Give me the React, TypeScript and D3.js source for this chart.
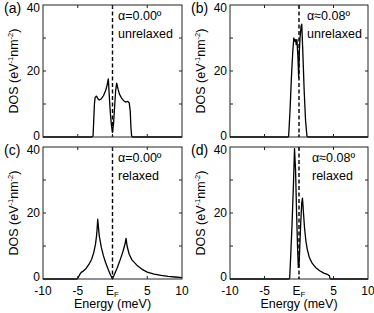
import React from 'react';
import * as d3 from 'd3';

// DOS curves: [energy (meV), DOS (eV^-1 nm^-2)]
const unrelaxed000: [number, number][] = [
  [-10, 0], [-3.0, 0], [-2.8, 0.3], [-2.7, 5], [-2.6, 10], [-2.5, 12], [-2.3, 12.4], [-2.1, 11.6],
  [-1.9, 11.2], [-1.6, 11.6], [-1.3, 12.5], [-1.0, 14], [-0.8, 15.5], [-0.6, 17.6], [-0.45, 12],
  [-0.3, 7], [-0.15, 3.5], [0, 1.5], [0.15, 4], [0.3, 9], [0.45, 14], [0.6, 16.3], [0.8, 14.5],
  [1.0, 13], [1.3, 11.8], [1.6, 11], [1.9, 10.6], [2.2, 10.8], [2.4, 10.4], [2.55, 8], [2.65, 3],
  [2.75, 0.3], [2.9, 0], [10, 0],
];

const unrelaxed008: [number, number][] = [
  [-10, 0], [-1.6, 0], [-1.5, 0.2], [-1.3, 8], [-1.1, 18], [-0.9, 26], [-0.75, 30], [-0.6, 29],
  [-0.5, 29.5], [-0.4, 28], [-0.3, 29.5], [-0.15, 24], [-0.05, 18], [0.05, 26], [0.15, 30],
  [0.3, 33.5], [0.4, 34.2], [0.55, 26], [0.75, 14], [0.95, 5], [1.15, 0.3], [1.3, 0], [10, 0],
];

const relaxed000: [number, number][] = [
  [-10, 0], [-5.1, 0], [-4.9, 0.6], [-4.7, 1.4], [-4.5, 2.0], [-4.2, 2.4], [-3.8, 3.2], [-3.4, 4.4],
  [-3.0, 6], [-2.7, 8], [-2.45, 10.5], [-2.3, 13], [-2.2, 15.5], [-2.13, 18.1], [-1.9, 13],
  [-1.6, 9.5], [-1.3, 7], [-1.0, 5], [-0.6, 2.8], [-0.3, 1.3], [0, 0], [0.3, 1.5], [0.7, 3.5],
  [1.1, 5.8], [1.5, 8.3], [1.8, 10.6], [1.95, 12.3], [2.1, 10], [2.4, 7.5], [2.8, 5.8], [3.5, 4.2],
  [4.2, 3], [5, 2.1], [6, 1.5], [7, 1.1], [8, 0.8], [9, 0.6], [10, 0.4],
];

const relaxed008: [number, number][] = [
  [-10, 0], [-1.45, 0], [-1.35, 0.3], [-1.2, 7], [-1.0, 17], [-0.8, 29], [-0.65, 39.5], [-0.5, 33],
  [-0.35, 20], [-0.2, 9], [-0.1, 3.5], [0, 4], [0.1, 9], [0.25, 17], [0.4, 23], [0.5, 24.5],
  [0.65, 20], [0.8, 15.5], [1.0, 11.5], [1.2, 9], [1.5, 6.5], [1.9, 4.8], [2.4, 3.5], [3.0, 2.5],
  [3.6, 1.8], [4.2, 1.3], [4.4, 1.0], [4.5, 0.2], [4.6, 0], [10, 0],
];

const xTicks = [-10, -5, 0, 5, 10];
const xTickLabels = ['-10', '-5', 'E_F', '5', '10'];
const yTicks = [0, 10, 20, 30, 40];
const yTickLabels = [0, 20, 40];

const panels = [
  { tag: '(a)', angle: 'α=0.00º', state: 'unrelaxed', data: unrelaxed000, col: 0, row: 0 },
  { tag: '(b)', angle: 'α≈0.08º', state: 'unrelaxed', data: unrelaxed008, col: 1, row: 0 },
  { tag: '(c)', angle: 'α=0.00º', state: 'relaxed', data: relaxed000, col: 0, row: 1 },
  { tag: '(d)', angle: 'α≈0.08º', state: 'relaxed', data: relaxed008, col: 1, row: 1 },
];

const colX = [[43, 182], [230, 368]];
const rowY = [[5, 137], [147, 279]];
const annX = [[118, 307], [118, 312]];

const font = 'Arial, "Liberation Sans", sans-serif';

const Panel = ({ p }: { p: typeof panels[number] }) => {
  const [x0, x1] = colX[p.col];
  const [y0, y1] = rowY[p.row];
  const x = d3.scaleLinear().domain([-10, 10]).range([x0, x1]);
  const y = d3.scaleLinear().domain([0, 40]).range([y1, y0]);
  const line = d3.line<[number, number]>().x(d => x(d[0])).y(d => y(d[1]));
  const tl = 3;
  const ax = annX[p.row][p.col];
  const titleX = x0 - 25;
  const titleY = (y0 + y1) / 2;
  const bottom = p.row === 1;

  return (
    <g>
      <path d={line(p.data) ?? ''} fill="none" stroke="#000" strokeWidth={1.3} strokeLinejoin="round" />
      <line x1={x(0)} x2={x(0)} y1={y0} y2={y1} stroke="#000" strokeWidth={1.4} strokeDasharray="4,2.5" />
      <rect x={x0} y={y0} width={x1 - x0} height={y1 - y0} fill="none" stroke="#222" strokeWidth={1} />
      {xTicks.slice(1, -1).map(t => (
        <g key={'xt' + t}>
          <line x1={x(t)} x2={x(t)} y1={y1} y2={y1 - tl} stroke="#222" />
          <line x1={x(t)} x2={x(t)} y1={y0} y2={y0 + tl} stroke="#222" />
        </g>
      ))}
      {yTicks.slice(1, -1).map(t => (
        <g key={'yt' + t}>
          <line x1={x0} x2={x0 + tl} y1={y(t)} y2={y(t)} stroke="#222" />
          <line x1={x1} x2={x1 - tl} y1={y(t)} y2={y(t)} stroke="#222" />
        </g>
      ))}
      {yTickLabels.map(t => (
        <text
          key={'yl' + t}
          x={x0 - 3}
          y={t === 0 ? y(t) + (bottom ? 1.8 : 3.3) : Math.max(y(t), y0 + 3) + 4.3}
          fontSize={12}
          textAnchor="end"
          fontFamily={font}
        >
          {t}
        </text>
      ))}
      {bottom &&
        xTicks.map((t, i) => (
          <text key={'xl' + t} x={x(t)} y={y1 + 15.5} fontSize={12} textAnchor="middle" fontFamily={font}>
            {xTickLabels[i] === 'E_F' ? (
              <>
                E<tspan fontSize={8} dy={2}>F</tspan>
              </>
            ) : (
              xTickLabels[i]
            )}
          </text>
        ))}
      {bottom && (
        <text x={(x0 + x1) / 2} y={y1 + 29} fontSize={12.5} textAnchor="middle" fontFamily={font}>
          Energy (meV)
        </text>
      )}
      <text
        transform={`translate(${titleX},${titleY}) rotate(-90)`}
        fontSize={12.5}
        textAnchor="middle"
        fontFamily={font}
      >
        DOS (eV<tspan fontSize={7.5} dy={-5}>-1</tspan>
        <tspan dy={5}>nm</tspan>
        <tspan fontSize={7.5} dy={-5}>-2</tspan>
        <tspan dy={5}>)</tspan>
      </text>
      <text x={x0 - 39} y={y0 + 8} fontSize={14} fontFamily={font}>
        {p.tag}
      </text>
      <text x={ax} y={y0 + 14.5} fontSize={12.5} fontFamily={font}>
        {p.angle}
      </text>
      <text x={ax} y={y0 + 32.5} fontSize={12.5} fontFamily={font}>
        {p.state}
      </text>
    </g>
  );
};

export default function App() {
  return (
    <svg width={374} height={313} style={{ display: 'block', position: 'absolute', left: 0, top: 0 }}>
      <rect width={374} height={313} fill="#fff" />
      {panels.map(p => (
        <Panel key={p.tag} p={p} />
      ))}
    </svg>
  );
}
